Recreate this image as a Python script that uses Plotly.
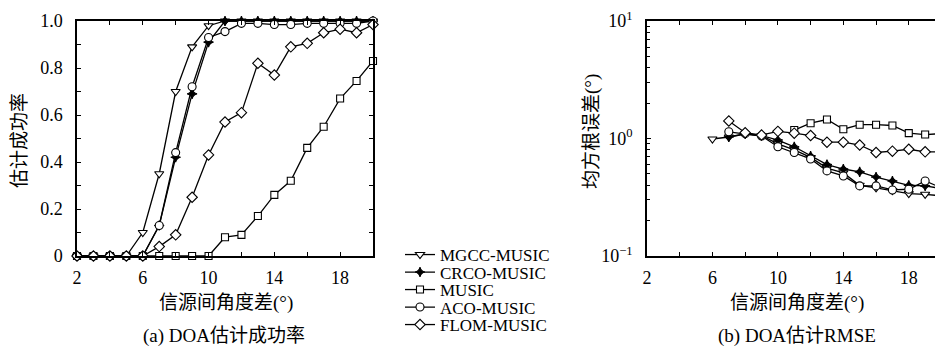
import plotly.graph_objects as go

# ---------------- data ----------------
angle_sep = [2, 3, 4, 5, 6, 7, 8, 9, 10, 11, 12, 13, 14, 15, 16, 17, 18, 19, 20]

series_names = ["MGCC-MUSIC", "CRCO-MUSIC", "MUSIC", "ACO-MUSIC", "FLOM-MUSIC"]

# (a) success rate
succ_mgcc = [0, 0, 0, 0, 0.10, 0.35, 0.70, 0.89, 0.98, 1.0, 1.0, 1.0, 1.0, 1.0, 1.0, 1.0, 1.0, 1.0, 1.0]
succ_crco = [0, 0, 0, 0, 0, 0.13, 0.42, 0.69, 0.91, 1.0, 1.0, 1.0, 1.0, 1.0, 1.0, 1.0, 1.0, 1.0, 1.0]
succ_music = [0, 0, 0, 0, 0, 0, 0, 0, 0, 0.08, 0.09, 0.17, 0.26, 0.32, 0.46, 0.55, 0.67, 0.745, 0.83]
succ_aco = [0, 0, 0, 0, 0, 0.13, 0.44, 0.72, 0.93, 0.955, 0.99, 0.99, 0.985, 0.985, 0.99, 0.99, 0.99, 0.99, 1.0]
succ_flom = [0, 0, 0, 0, 0, 0.04, 0.09, 0.25, 0.43, 0.57, 0.61, 0.82, 0.77, 0.89, 0.905, 0.95, 0.965, 0.95, 0.985]

# (b) RMSE (degrees), None where not defined
rmse_mgcc = [None, None, None, None, 0.99, 1.03, 1.09, 1.06, 0.90, 0.80, 0.69, 0.56, 0.51, 0.40, 0.38, 0.36, 0.34, 0.335, 0.325]
rmse_crco = [None, None, None, None, None, 1.03, 1.10, 1.06, 0.97, 0.85, 0.71, 0.60, 0.55, 0.52, 0.47, 0.435, 0.40, 0.395, 0.375]
rmse_music = [None, None, None, None, None, None, None, None, None, 1.18, 1.35, 1.45, 1.20, 1.31, 1.31, 1.29, 1.11, 1.08, 1.10]
rmse_aco = [None, None, None, None, None, 1.14, 1.10, 1.05, 0.85, 0.76, 0.67, 0.53, 0.48, 0.395, 0.395, 0.365, 0.37, 0.435, 0.38]
rmse_flom = [None, None, None, None, None, 1.41, 1.12, 1.07, 1.15, 1.11, 1.06, 0.93, 0.93, 0.88, 0.76, 0.78, 0.81, 0.77, 0.77]

x_tickvals = [2, 4, 6, 8, 10, 12, 14, 16, 18, 20]
x_ticktext = ["2", " ", "6", " ", "10", " ", "14", " ", "18", " "]
y1_tickvals = [0, 0.1, 0.2, 0.3, 0.4, 0.5, 0.6, 0.7, 0.8, 0.9, 1.0]
y1_ticktext = ["0", " ", "0.2", " ", "0.4", " ", "0.6", " ", "0.8", " ", "1.0"]
y2_tickvals = [0.1, 1, 10]
y2_ticktext = ["10<sup>−1</sup>", "10<sup>0</sup>", "10<sup>1</sup>"]
y2_minor = [0.2, 0.3, 0.4, 0.5, 0.6, 0.7, 0.8, 0.9, 2, 3, 4, 5, 6, 7, 8, 9]

# ---------------- styling ----------------
# the page body keeps its default 8px margin, so the figure is drawn 8px
# down/right; size and coordinates are compensated for that.
OFF = 8
W, H = 943 - OFF, 347 - OFF
FONT = "Liberation Serif, Noto Sans CJK SC, serif"
BLACK = "#000000"

styles = [
    dict(symbol="triangle-down", size=8, color="white"),
    dict(symbol="star-diamond", size=7, color=BLACK),
    dict(symbol="square", size=7, color="white"),
    dict(symbol="circle", size=8, color="white"),
    dict(symbol="diamond", size=8, color="white"),
]

succ = [succ_mgcc, succ_crco, succ_music, succ_aco, succ_flom]
rmse = [rmse_mgcc, rmse_crco, rmse_music, rmse_aco, rmse_flom]

fig = go.Figure()
for i, name in enumerate(series_names):
    st = styles[i]
    mk = dict(symbol=st["symbol"], size=st["size"], color=st["color"],
              line=dict(color=BLACK, width=1.1))
    fig.add_trace(go.Scatter(
        x=angle_sep, y=succ[i], name=name, mode="lines+markers",
        line=dict(color=BLACK, width=1.3), marker=mk,
        xaxis="x", yaxis="y", cliponaxis=False,
        legend="legend" if i == 0 else f"legend{i+1}",
    ))
for i, name in enumerate(series_names):
    st = styles[i]
    mk = dict(symbol=st["symbol"], size=st["size"], color=st["color"],
              line=dict(color=BLACK, width=1.1))
    fig.add_trace(go.Scatter(
        x=angle_sep, y=rmse[i], name=name, mode="lines+markers",
        line=dict(color=BLACK, width=1.3), marker=mk,
        xaxis="x2", yaxis="y2", cliponaxis=False, showlegend=False,
    ))

def px_x(p):
    return (p - OFF) / W

def px_y(p):
    return 1 - (p - OFF) / H

axis_common = dict(
    showline=True, linecolor=BLACK, linewidth=1.5, mirror="ticks",
    ticks="inside", ticklen=4, tickcolor=BLACK, tickwidth=1,
    showgrid=False, zeroline=False, automargin=False,
    tickfont=dict(family=FONT, size=18, color=BLACK),
)

ydom = [px_y(256), px_y(21)]

fig.update_layout(
    template="none",
    width=W, height=H,
    margin=dict(l=0, r=0, t=0, b=0, pad=0, autoexpand=False),
    paper_bgcolor="white", plot_bgcolor="white",
    font=dict(family=FONT, size=17, color=BLACK),
    xaxis=dict(domain=[px_x(77), px_x(373)], range=[2, 20],
               tickvals=x_tickvals, ticktext=x_ticktext, anchor="y",
               ticklabelstandoff=5, **axis_common),
    yaxis=dict(domain=ydom, range=[0, 1], tickvals=y1_tickvals, ticktext=y1_ticktext,
               anchor="x", ticklabelstandoff=9, **axis_common),
    xaxis2=dict(domain=[px_x(647), px_x(941.5)], range=[2, 20],
                tickvals=x_tickvals, ticktext=x_ticktext, anchor="y2",
                ticklabelstandoff=5, **axis_common),
    yaxis2=dict(domain=ydom, type="log", range=[-1, 1],
                tickvals=y2_tickvals, ticktext=y2_ticktext, anchor="x2",
                ticklabelstandoff=9,
                minor=dict(tickvals=y2_minor, ticks="inside", ticklen=3,
                           tickcolor=BLACK, tickwidth=1),
                **axis_common),
)

# separate legends so each row can sit where the original puts it
legend_rows = [255, 272.5, 290, 307.5, 325]
for i, yc in enumerate(legend_rows):
    key = "legend" if i == 0 else f"legend{i+1}"
    fig.update_layout({key: dict(
        x=px_x(400), xanchor="left", y=px_y(yc), yanchor="middle",
        bgcolor="rgba(0,0,0,0)", borderwidth=0, itemwidth=30,
        font=dict(family=FONT, size=17, color=BLACK),
    )})

ann = dict(showarrow=False, xref="paper", yref="paper",
           xanchor="center", yanchor="middle",
           font=dict(family=FONT, size=19, color=BLACK))
fig.add_annotation(text="信源间角度差(°)", x=px_x(226), y=px_y(303), **ann)
fig.add_annotation(text="(a) DOA估计成功率", x=px_x(224), y=px_y(336), **ann)
fig.add_annotation(text="信源间角度差(°)", x=px_x(797), y=px_y(303), **ann)
fig.add_annotation(text="(b) DOA估计RMSE", x=px_x(797), y=px_y(336), **ann)
fig.add_annotation(text="估计成功率", x=px_x(19), y=px_y(141), textangle=-90, **ann)
fig.add_annotation(text="均方根误差(°)", x=px_x(592), y=px_y(132), textangle=-90, **ann)

fig.write_html("out.html")
